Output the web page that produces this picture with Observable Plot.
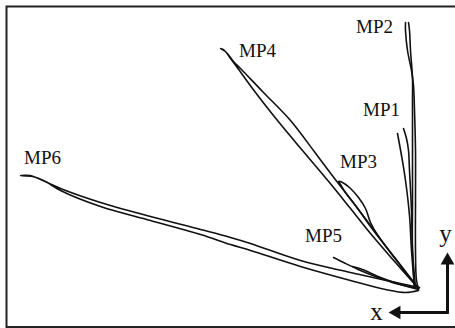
<!DOCTYPE html>
<html>
<head>
<meta charset="utf-8">
<script src="https://cdn.jsdelivr.net/npm/d3@7"></script>
<script src="https://cdn.jsdelivr.net/npm/@observablehq/plot@0.6"></script>
<style>
  html, body { margin: 0; padding: 0; background: #fff; }
  #chart svg { display: block; }
</style>
</head>
<body>
<div id="chart"></div>
<script>
// Trajectories: [x, y] offsets from the common origin (x positive to the left, y positive upward)
const mp1Out = [[4,1],[7,38],[9,73],[13,108],[17,133],[21,155]];
const mp1Back = [[15,160],[12,150],[10,138],[9,118],[7,78],[6,38],[3,1]];
const mp2Out = [[4,1],[6,38],[6,88],[6,138],[6,188],[6,210],[8,238],[9,258],[10,266]];
const mp2Back = [[13,266],[13,258],[11,238],[7,218],[5,203],[4,178],[3,138],[3,88],[3,38],[2,8],[0,0]];
const mp3 = [[0,0],[28,36],[48,62],[63,83],[73,96],[78,104],[80,107],[76,106],[68,100],[60,91],[53,80],[48,66],[40,52],[20,26],[0,0]];
const mp4 = [[0,0],[28,36],[57,75],[87,114],[105,138],[128,168],[156,197],[178,220],[185,227],[192,236],[198,240],[194,238],[188,230],[182,222],[163,196],[141,168],[116,138],[89,106],[68,80],[48,55],[23,26],[0,0]];
const mp5Out = [[0,0],[23,5],[43,12],[58,18],[73,25],[85,31]];
const mp5Back = [[66,22],[56,19],[38,11],[18,4],[0,-1]];
const mp6 = [[-1,1],[18,5],[68,16],[118,28],[168,45],[188,51],[218,59],[268,72],[318,86],[358,100],[378,109],[388,113],[398,113],[386,112],[373,107],[358,98],[318,82],[268,68],[218,54],[188,44],[168,38],[118,22],[68,8],[33,-1],[13,-4],[0,-2]];

const segmentNames = ["MP1 out","MP1 back","MP2 out","MP2 back","MP3","MP4","MP5 out","MP5 back","MP6"];
const segmentData = [mp1Out, mp1Back, mp2Out, mp2Back, mp3, mp4, mp5Out, mp5Back, mp6];

// Label anchors
const labelNames = ["MP1","MP2","MP3","MP4","MP5","MP6"];
const labelX = [37, 44, 60, 161, 95, 376];
const labelY = [179, 262, 127, 238, 53, 131];

// Direction indicator
const axisNames = ["x", "y"];
const axisCorner = [-29, -24];
const axisEnds = [[20, -24], [-29, 26]];
const axisHeads = [[22, -24, -90], [-29, 28, 0]];
const axisLabelPos = [[42, -23], [-27, 55]];

const points = segmentData.flatMap((arr, i) => arr.map(([x, y], k) => ({series: segmentNames[i], k, x, y})));
const labels = labelNames.map((t, i) => ({t, x: labelX[i], y: labelY[i]}));
const axisSegs = axisEnds.flatMap((e, i) => [
  {id: axisNames[i], x: axisCorner[0], y: axisCorner[1]},
  {id: axisNames[i], x: e[0], y: e[1]}
]);
const heads = axisHeads.map(([x, y, r]) => ({x, y, r}));
const axisLabels = axisNames.map((t, i) => ({t, x: axisLabelPos[i][0], y: axisLabelPos[i][1]}));

const chart = Plot.plot({
  width: 455,
  height: 328,
  margin: 0,
  style: {fontFamily: "'Liberation Serif', 'Times New Roman', serif", background: "#fff"},
  x: {domain: [418, -37], axis: null},
  y: {domain: [-40, 288], axis: null},
  marks: [
    Plot.frame({stroke: "#222", strokeWidth: 2, insetTop: 6, insetLeft: 6, insetBottom: 1.5, insetRight: -3}),
    Plot.line(points, {x: "x", y: "y", z: "series", curve: "catmull-rom", stroke: "#111", strokeWidth: 1.6}),
    Plot.line(axisSegs, {x: "x", y: "y", z: "id", stroke: "#111", strokeWidth: 3}),
    Plot.dot(heads, {x: "x", y: "y", rotate: "r", symbol: "triangle", r: 5.1, fill: "#111", stroke: "none"}),
    Plot.text(labels, {x: "x", y: "y", text: "t", fontSize: 19, fill: "#111", textAnchor: "middle"}),
    Plot.text(axisLabels, {x: "x", y: "y", text: "t", fontSize: 25, fill: "#111", textAnchor: "middle"})
  ]
});
document.getElementById("chart").appendChild(chart);
</script>
</body>
</html>
